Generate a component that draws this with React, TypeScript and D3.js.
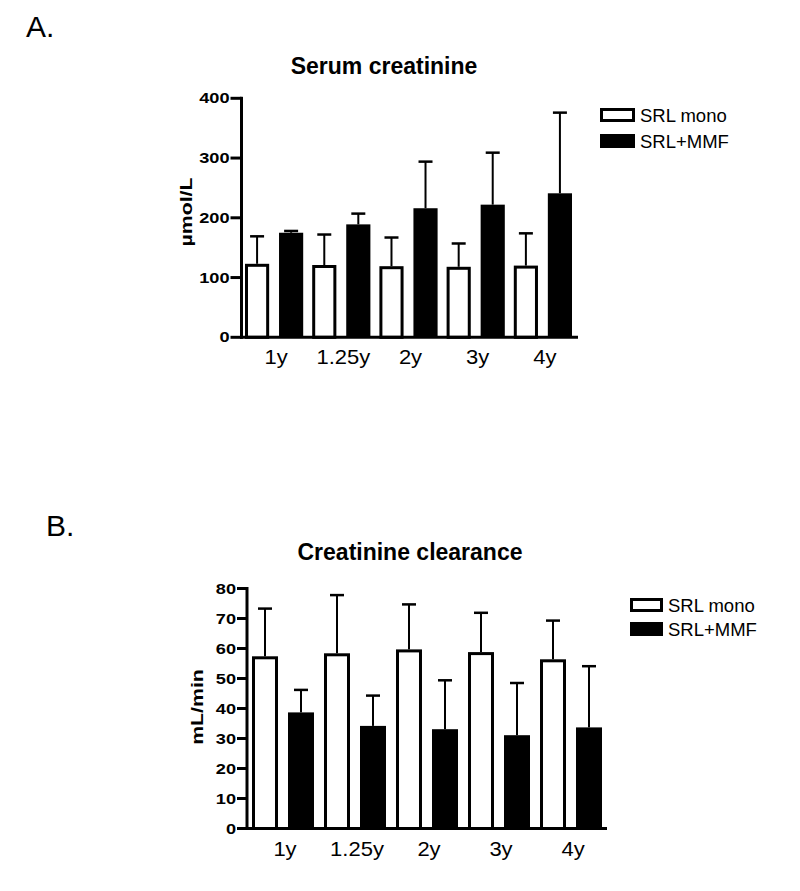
import React from 'react';
import * as d3 from 'd3';

const categories = ['1y', '1.25y', '2y', '3y', '4y'];
const seriesKeys = ['mono', 'mmf'];
const seriesNames = ['SRL mono', 'SRL+MMF'];

const serumMono = [123, 121, 119, 118, 120];
const serumMonoErr = [46, 51, 48, 39, 54];
const serumMmf = [175, 189, 216, 222, 241];
const serumMmfErr = [3, 18, 78, 87, 135];
const serumTicks = [0, 100, 200, 300, 400];

const clearMono = [57.4, 58.4, 59.7, 58.8, 56.4];
const clearMonoErr = [15.9, 19.4, 15.0, 13.1, 12.9];
const clearMmf = [38.7, 34.2, 33.1, 31.1, 33.7];
const clearMmfErr = [7.5, 10.1, 16.3, 17.4, 20.4];
const clearTicks = [0, 10, 20, 30, 40, 50, 60, 70, 80];

const FONT = '"Liberation Sans", Arial, Helvetica, sans-serif';

type PanelProps = {
  letter: string;
  letterPos: [number, number];
  title: string;
  titlePos: [number, number];
  yTitle: string;
  yTitlePos: [number, number];
  mono: number[];
  monoErr: number[];
  mmf: number[];
  mmfErr: number[];
  ticks: number[];
  yMax: number;
  yRange: [number, number];
  axisX: number;
  xRange: [number, number];
  xEnd: number;
  groupPad: number;
  innerPad: number;
  tickLen: number;
  legendX: number;
  legendY: number;
  legendW: number;
  legendGap: number;
};

function Panel(p: PanelProps) {
  const y = d3.scaleLinear().domain([0, p.yMax]).range(p.yRange);
  const x = d3.scaleBand<string>().domain(categories).range(p.xRange).paddingInner(p.groupPad).paddingOuter(0);
  const xi = d3.scaleBand<string>().domain(seriesKeys).range([0, x.bandwidth()]).paddingInner(p.innerPad).paddingOuter(0);
  const bw = xi.bandwidth();
  const y0 = y(0);
  const capHalf = 7;

  const bars = categories.map((c, i) => {
    const gx = x(c) as number;
    const monoX = gx + (xi('mono') as number);
    const mmfX = gx + (xi('mmf') as number);
    const vm = p.mono[i];
    const vf = p.mmf[i];
    const em = vm + p.monoErr[i];
    const ef = vf + p.mmfErr[i];
    const cm = monoX + bw / 2;
    const cf = mmfX + bw / 2;
    return (
      <g key={c}>
        <line x1={cm} x2={cm} y1={y(vm)} y2={y(em)} stroke="#000" strokeWidth={2} />
        <line x1={cm - capHalf} x2={cm + capHalf} y1={y(em)} y2={y(em)} stroke="#000" strokeWidth={2.5} />
        <rect x={monoX + 1.5} y={y(vm) + 1.5} width={bw - 3} height={y0 - y(vm) - 1.5} fill="#fff" stroke="#000" strokeWidth={3} />
        <line x1={cf} x2={cf} y1={y(vf)} y2={y(ef)} stroke="#000" strokeWidth={2} />
        <line x1={cf - capHalf} x2={cf + capHalf} y1={y(ef)} y2={y(ef)} stroke="#000" strokeWidth={2.5} />
        <rect x={mmfX} y={y(vf)} width={bw} height={y0 - y(vf)} fill="#000" />
      </g>
    );
  });

  return (
    <g>
      <text x={p.letterPos[0]} y={p.letterPos[1]} fontSize={30} fontFamily={FONT}>{p.letter}</text>
      <text x={p.titlePos[0]} y={p.titlePos[1]} fontSize={23} fontWeight="bold" textAnchor="middle" fontFamily={FONT}>{p.title}</text>
      <text transform={`translate(${p.yTitlePos[0]},${p.yTitlePos[1]}) rotate(-90) scale(1.25,1)`} fontSize={17} fontWeight="bold" textAnchor="middle" fontFamily={FONT}>{p.yTitle}</text>
      {bars}
      {/* y axis */}
      <line x1={p.axisX} x2={p.axisX} y1={y0 + 1.5} y2={y(p.yMax) - 1.5} stroke="#000" strokeWidth={3} />
      {p.ticks.map(t => (
        <g key={t}>
          <line x1={p.axisX - p.tickLen} x2={p.axisX} y1={y(t)} y2={y(t)} stroke="#000" strokeWidth={3} />
          <text transform={`translate(${p.axisX - p.tickLen - 1},${y(t) + 5}) scale(1.3,1)`} fontSize={14} fontWeight="bold" textAnchor="end" fontFamily={FONT}>{t}</text>
        </g>
      ))}
      {/* x axis */}
      <line x1={p.axisX - 1.5} x2={p.xEnd} y1={y0} y2={y0} stroke="#000" strokeWidth={3} />
      {categories.map(c => (
        <text key={c} transform={`translate(${(x(c) as number) + x.bandwidth() / 2 + 2},${y0 + 27}) scale(1.1,1)`} fontSize={20} textAnchor="middle" fontFamily={FONT}>{c}</text>
      ))}
      {/* legend */}
      {seriesNames.map((s, i) => (
        <g key={s}>
          <rect
            x={p.legendX + (i === 0 ? 1.5 : 0)}
            y={p.legendY + i * p.legendGap + (i === 0 ? 1.5 : 0)}
            width={p.legendW - (i === 0 ? 3 : 0)}
            height={14 - (i === 0 ? 3 : 0)}
            fill={i === 0 ? '#fff' : '#000'}
            stroke={i === 0 ? '#000' : 'none'}
            strokeWidth={3}
          />
          <text x={p.legendX + p.legendW + 5} y={p.legendY + i * p.legendGap + 13.5} fontSize={18.5} fontFamily={FONT}>{s}</text>
        </g>
      ))}
    </g>
  );
}

export default function App() {
  return (
    <svg width={800} height={891} style={{ position: 'absolute', left: 0, top: 0, background: '#fff' }}>
      <rect x={0} y={0} width={800} height={891} fill="#fff" />
      <Panel
        letter="A." letterPos={[26, 37]}
        title="Serum creatinine" titlePos={[384, 74]}
        yTitle="µmol/L" yTitlePos={[192, 212]}
        mono={serumMono} monoErr={serumMonoErr} mmf={serumMmf} mmfErr={serumMmfErr}
        ticks={serumTicks} yMax={400} yRange={[337.3, 98.3]}
        axisX={241.5} xRange={[245, 572]} xEnd={578}
        groupPad={0.134} innerPad={0.29} tickLen={11}
        legendX={600} legendY={108} legendW={35} legendGap={26}
      />
      <Panel
        letter="B." letterPos={[46, 536]}
        title="Creatinine clearance" titlePos={[410, 560]}
        yTitle="mL/min" yTitlePos={[203, 707]}
        mono={clearMono} monoErr={clearMonoErr} mmf={clearMmf} mmfErr={clearMmfErr}
        ticks={clearTicks} yMax={80} yRange={[828.5, 588.5]}
        axisX={247} xRange={[252, 602]} xEnd={607}
        groupPad={0.139} innerPad={0.278} tickLen={10}
        legendX={630} legendY={598} legendW={33} legendGap={24}
      />
    </svg>
  );
}
